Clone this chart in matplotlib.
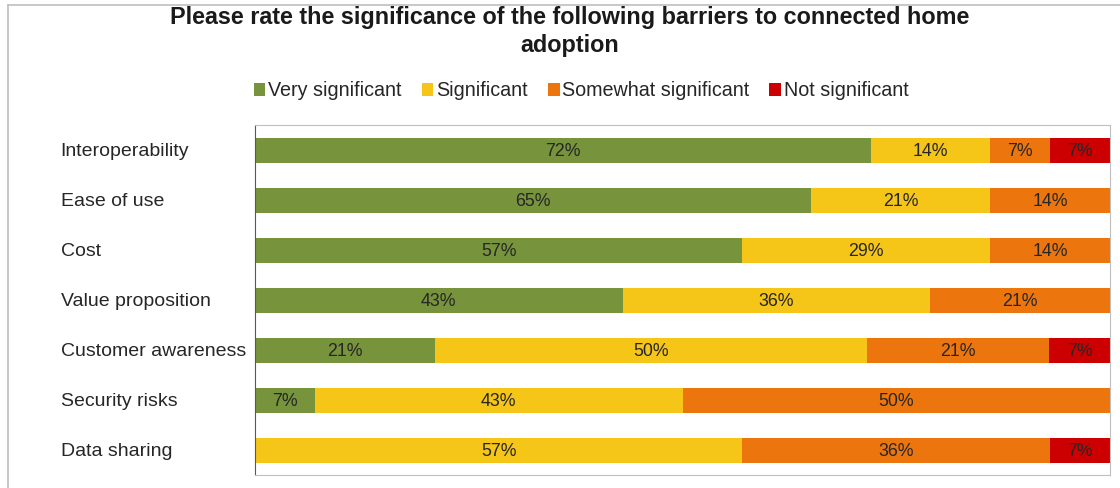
import matplotlib.pyplot as plt
import numpy as np
from matplotlib.lines import Line2D

plt.rcParams['font.family'] = ['Liberation Sans', 'DejaVu Sans']

categories = ["Interoperability", "Ease of use", "Cost", "Value proposition",
              "Customer awareness", "Security risks", "Data sharing"]
series_names = ["Very significant", "Significant", "Somewhat significant", "Not significant"]
very_significant = [72, 65, 57, 43, 21.1, 7, 0]
significant = [14, 21, 29, 36, 50.5, 43, 57]
somewhat_significant = [7, 14, 14, 21, 21.3, 50, 36]
not_significant = [7, 0, 0, 0, 7.1, 0, 7]
colors = ["#77933C", "#F5C518", "#EC750E", "#CC0000"]

fig = plt.figure(figsize=(11.2, 4.88), dpi=100)
ax = fig.add_axes([255 / 1120, 13 / 488, 855 / 1120, 350 / 488])

y = np.arange(len(categories))
left = np.zeros(len(categories))
for name, vals, col in zip(series_names,
                           [very_significant, significant, somewhat_significant, not_significant],
                           colors):
    vals = np.array(vals, dtype=float)
    bars = ax.barh(y, vals, left=left, height=0.5, color=col, label=name)
    for b, v in zip(bars, vals):
        if v > 0:
            ax.text(b.get_x() + b.get_width() / 2, b.get_y() + b.get_height() / 2 + 0.02,
                    f"{v:.0f}%", ha='center', va='center', fontsize=12.8, color='#262626')
    left += vals

ax.set_xlim(0, 100)
ax.set_ylim(len(categories) - 0.5, -0.5)
ax.set_xticks([])
ax.set_yticks(y)
ax.set_yticklabels(categories, fontsize=14, color='#262626')
ax.tick_params(axis='y', length=0, pad=140)
for lab in ax.get_yticklabels():
    lab.set_ha('left')
for side in ['top', 'right', 'bottom']:
    ax.spines[side].set_color('#BFBFBF')
ax.spines['left'].set_color('#595959')

fig.text(0.509, 0.988, "Please rate the significance of the following barriers to connected home\nadoption",
         ha='center', va='top', fontsize=16.8, fontweight='bold', color='#1a1a1a', linespacing=1.3)

fig.legend(loc='center', bbox_to_anchor=(0.519, 0.814), ncol=4, frameon=False,
           fontsize=14.2, handlelength=0.6, handleheight=0.6, handletextpad=0.15,
           columnspacing=1.0, labelcolor='#262626')

# outer chart border (top and left only visible)
fig.add_artist(Line2D([8 / 1120, 1], [1 - 5 / 488, 1 - 5 / 488], color='#BFBFBF', lw=1.2,
                      transform=fig.transFigure))
fig.add_artist(Line2D([8 / 1120, 8 / 1120], [0, 1 - 5 / 488], color='#BFBFBF', lw=1.2,
                      transform=fig.transFigure))

fig.savefig("out.png", dpi=100)
